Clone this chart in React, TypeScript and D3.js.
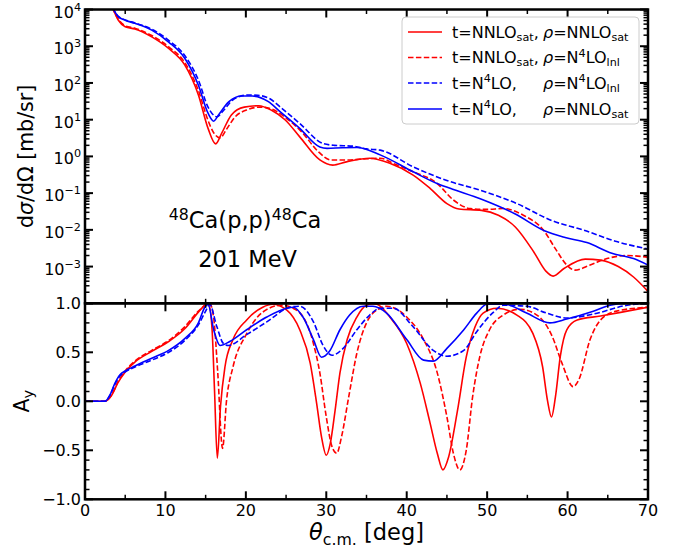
import React from 'react';
import * as d3 from 'd3';

type Pt = [number, number];

// dσ/dΩ [mb/sr] against θ_c.m. [deg]
const xsNNLOsatNNLOsat: Pt[] = [
  [3.0, 1.8e4], [3.5, 1.0e4], [4.15, 5.1e3], [5.0, 3.4e3], [6.2, 2.95e3], [8.3, 1.8e3],
  [10.4, 870], [12.4, 310], [14.1, 47], [15.3, 5.8], [16.25, 2.2], [17.0, 4.3], [18.2, 13.5],
  [19.8, 22], [21.6, 24], [23.2, 18], [24.9, 9.8], [26.7, 3.4], [29.2, 0.8], [30.8, 0.58],
  [32.5, 0.71], [35.4, 0.89], [37.9, 0.65], [40.8, 0.31], [42.9, 0.135], [45.0, 0.052],
  [46.5, 0.037], [49.3, 0.034], [51.4, 0.025], [53.5, 0.012], [55.8, 0.0025], [57.3, 7.5e-4],
  [58.2, 5.5e-4], [59.6, 9.0e-4], [62.2, 1.6e-3], [64.1, 1.5e-3], [66.3, 1.0e-3],
  [68.2, 5.2e-4], [70, 2.1e-4],
];
const xsNNLOsatN4LOlnl: Pt[] = [
  [3.0, 1.8e4], [3.5, 1.0e4], [4.15, 5.4e3], [5.0, 3.6e3], [6.2, 3.1e3], [8.3, 1.95e3],
  [10.4, 960], [12.4, 360], [14.1, 62], [15.3, 9.5], [16.0, 4.4], [16.8, 3.2], [17.6, 5.5],
  [18.6, 11.5], [20.3, 19], [21.8, 22], [23.2, 19.5], [24.9, 11.5], [27.0, 4.5], [29.0, 1.35],
  [30.6, 0.8], [32.5, 0.8], [35.0, 0.86], [36.7, 0.89], [38.5, 0.62], [40.8, 0.38],
  [43.7, 0.19], [45.8, 0.065], [47.9, 0.038], [50.0, 0.036], [52.0, 0.038], [54.5, 0.025],
  [57.0, 0.0098], [58.6, 0.0028], [59.9, 1.1e-3], [60.9, 8.0e-4], [62.8, 1.1e-3],
  [64.9, 1.65e-3], [67.4, 2.0e-3], [70, 1.8e-3],
];
const xsN4LON4LOlnl: Pt[] = [
  [3.0, 1.8e4], [3.5, 1.05e4], [4.15, 6.5e3], [5.0, 5.2e3], [6.2, 4.3e3], [8.3, 2.9e3],
  [10.4, 1.45e3], [12.4, 560], [14.1, 120], [15.3, 22], [16.4, 12], [17.2, 17.5], [18.4, 35],
  [20.3, 47], [21.5, 46], [23.0, 37], [24.25, 22.4], [26.7, 7.9], [29.6, 2.24], [31.0, 2.0],
  [33.3, 1.9], [35.0, 1.6], [36.7, 1.48], [40.8, 0.52], [44.9, 0.224], [49.1, 0.12],
  [53.7, 0.052], [58.0, 0.018], [62.0, 0.0098], [66.1, 0.0048], [70, 0.003],
];
const xsN4LONNLOsat: Pt[] = [
  [3.0, 1.8e4], [3.5, 1.05e4], [4.15, 6.3e3], [5.0, 5.1e3], [6.2, 4.2e3], [8.3, 2.75e3],
  [10.4, 1.3e3], [12.4, 470], [14.1, 87], [15.3, 15], [16.0, 9.1], [16.6, 13.5], [17.9, 31],
  [19.5, 44], [20.8, 44], [22.8, 31], [24.25, 16.6], [26.7, 5.8], [29.2, 1.8], [30.1, 1.65],
  [32.0, 1.72], [33.8, 1.74], [36.7, 1.1], [40.8, 0.38], [43.7, 0.186], [45.4, 0.135],
  [49.3, 0.068], [53.5, 0.027], [57.2, 0.0093], [59.7, 0.0062], [62.4, 0.0045],
  [65.5, 0.0023], [68.2, 0.00165], [70, 0.0011],
];

// analysing power A_y against θ_c.m. [deg]
const ayNNLOsatNNLOsat: Pt[] = [
  [0, 0], [2.4, 0], [3.3, 0.06], [4.1, 0.19], [5.0, 0.3], [6.2, 0.4], [8.3, 0.51], [10.4, 0.61],
  [12.4, 0.74], [14.1, 0.91], [14.9, 0.98], [15.35, 1.0], [15.8, 0.73], [16.1, 0.12],
  [16.45, -0.58], [16.85, -0.05], [17.4, 0.35], [18.4, 0.63], [20.1, 0.83], [22.1, 0.96],
  [23.3, 0.99], [25.1, 0.93], [26.7, 0.73], [28.0, 0.39], [28.8, -0.02], [29.4, -0.36],
  [30.0, -0.55], [30.5, -0.43], [31.1, -0.09], [31.7, 0.29], [32.6, 0.63], [33.8, 0.86],
  [35.0, 0.98], [35.8, 0.995], [36.3, 0.99], [37.9, 0.86], [40.0, 0.59], [41.7, 0.18],
  [42.9, -0.22], [43.8, -0.53], [44.5, -0.7], [45.2, -0.57], [46.3, -0.1], [47.4, 0.45],
  [48.5, 0.76], [49.5, 0.9], [51.2, 0.95], [53.7, 0.88], [55.7, 0.69], [56.9, 0.35],
  [57.5, 0.01], [58.0, -0.16], [58.5, 0.05], [59.1, 0.46], [59.9, 0.73], [61.2, 0.83],
  [64.1, 0.87], [67.4, 0.92], [70, 0.96],
];
const ayNNLOsatN4LOlnl: Pt[] = [
  [0, 0], [2.4, 0], [3.3, 0.065], [4.1, 0.2], [5.0, 0.31], [6.2, 0.41], [8.3, 0.52],
  [10.4, 0.62], [12.4, 0.76], [14.1, 0.92], [15.5, 1.0], [16.0, 0.85], [16.5, 0.3],
  [17.1, -0.48], [17.6, 0.01], [18.4, 0.35], [20.1, 0.69], [22.1, 0.91], [24.4, 0.98],
  [26.3, 0.93], [28.4, 0.59], [29.2, 0.29], [30.0, -0.16], [30.7, -0.46], [31.3, -0.53],
  [31.9, -0.36], [32.8, 0.05], [33.8, 0.49], [35.0, 0.8], [36.7, 0.95], [37.5, 0.97],
  [40.0, 0.86], [42.1, 0.63], [43.8, 0.29], [45.0, -0.16], [45.8, -0.53], [46.6, -0.7],
  [47.4, -0.5], [48.2, 0.05], [49.1, 0.46], [50.3, 0.73], [52.0, 0.88], [54.1, 0.94],
  [56.5, 0.86], [58.1, 0.66], [59.3, 0.39], [60.7, 0.15], [61.4, 0.22], [62.8, 0.63],
  [64.1, 0.83], [66.1, 0.92], [70, 0.96],
];
const ayN4LON4LOlnl: Pt[] = [
  [0, 0], [2.5, 0], [3.1, 0.06], [3.7, 0.17], [4.35, 0.26], [5.0, 0.3], [6.2, 0.35],
  [8.3, 0.42], [10.4, 0.5], [12.4, 0.62], [14.1, 0.78], [15.0, 0.92], [15.5, 0.99],
  [16.4, 0.76], [17.2, 0.59], [17.8, 0.57], [20.1, 0.68], [22.6, 0.81], [25.5, 0.96],
  [26.7, 0.97], [28.4, 0.81], [29.6, 0.57], [30.7, 0.47], [32.1, 0.54], [33.8, 0.73],
  [35.4, 0.88], [36.7, 0.95], [38.3, 0.95], [40.8, 0.76], [43.3, 0.52], [45.0, 0.46],
  [47.1, 0.52], [48.7, 0.71], [50.8, 0.91], [52.0, 0.98], [54.9, 0.97], [57.4, 0.9],
  [59.9, 0.85], [63.2, 0.89], [67.4, 0.98], [70, 1.0],
];
const ayN4LONNLOsat: Pt[] = [
  [0, 0], [2.5, 0], [3.1, 0.064], [3.7, 0.18], [4.35, 0.27], [5.0, 0.31], [6.2, 0.36],
  [8.3, 0.44], [10.4, 0.52], [12.4, 0.64], [14.1, 0.8], [14.9, 0.96], [15.3, 0.99],
  [16.0, 0.73], [16.8, 0.57], [18.0, 0.61], [20.1, 0.73], [22.6, 0.86], [25.1, 0.95],
  [25.9, 0.96], [27.1, 0.86], [28.4, 0.63], [29.4, 0.45], [30.4, 0.51], [31.7, 0.73],
  [32.9, 0.88], [34.6, 0.97], [35.8, 0.97], [37.5, 0.9], [40.0, 0.63], [42.1, 0.42],
  [43.3, 0.41], [45.0, 0.54], [47.1, 0.73], [48.7, 0.9], [50.0, 0.99], [52.2, 0.99],
  [54.9, 0.9], [57.8, 0.8], [59.9, 0.84], [63.2, 0.92], [65.3, 0.98], [67.4, 1.0], [70, 1.0],
];

const xTicks = [0, 10, 20, 30, 40, 50, 60, 70];
const xsTickExponents = [4, 3, 2, 1, 0, -1, -2, -3];
const ayTicks = [-1, -0.5, 0, 0.5, 1];
const ayTickLabels = ['−1.0', '−0.5', '0.0', '0.5', '1.0'];

type Seg = { t: string; k?: 'sub' | 'sup' | 'it' };

const seriesLabelsT: Seg[][] = [
  [{ t: 't=NNLO' }, { t: 'sat', k: 'sub' }, { t: ',' }],
  [{ t: 't=NNLO' }, { t: 'sat', k: 'sub' }, { t: ',' }],
  [{ t: 't=N' }, { t: '4', k: 'sup' }, { t: 'LO,' }],
  [{ t: 't=N' }, { t: '4', k: 'sup' }, { t: 'LO,' }],
];
const seriesLabelsRho: Seg[][] = [
  [{ t: 'ρ', k: 'it' }, { t: '=NNLO' }, { t: 'sat', k: 'sub' }],
  [{ t: 'ρ', k: 'it' }, { t: '=N' }, { t: '4', k: 'sup' }, { t: 'LO' }, { t: 'lnl', k: 'sub' }],
  [{ t: 'ρ', k: 'it' }, { t: '=N' }, { t: '4', k: 'sup' }, { t: 'LO' }, { t: 'lnl', k: 'sub' }],
  [{ t: 'ρ', k: 'it' }, { t: '=NNLO' }, { t: 'sat', k: 'sub' }],
];
const seriesColors = ['#ff0000', '#ff0000', '#0000ff', '#0000ff'];
const seriesDashed = [false, true, true, false];
const xsSeries = [xsNNLOsatNNLOsat, xsNNLOsatN4LOlnl, xsN4LON4LOlnl, xsN4LONNLOsat];
const aySeries = [ayNNLOsatNNLOsat, ayNNLOsatN4LOlnl, ayN4LON4LOlnl, ayN4LONNLOsat];

const FONT = 'DejaVu Sans, sans-serif';

function segs(list: Seg[], fs: number) {
  let shift = 0;
  return list.map((s, i) => {
    const target = s.k === 'sub' ? fs * 0.2 : s.k === 'sup' ? -fs * 0.38 : 0;
    const dy = target - shift;
    shift = target;
    const size = s.k === 'sub' || s.k === 'sup' ? fs * 0.7 : fs;
    return (
      <tspan key={i} dy={dy !== 0 ? dy : undefined} fontSize={size}
        fontStyle={s.k === 'it' ? 'italic' : undefined}>{s.t}</tspan>
    );
  });
}

export default function App() {
  const W = 686, H = 552;
  const L = 85, R = 648;
  const topY0 = 9.5, mid = 303.3, botY1 = 499.3;

  const x = d3.scaleLinear().domain([0, 70]).range([L, R]);
  const yTop = d3.scaleLog().domain([1e-4, 1e4]).range([mid, topY0]);
  const yBot = d3.scaleLinear().domain([-1, 1]).range([botY1, mid]);

  const lineTop = d3.line<Pt>().x(d => x(d[0])).y(d => yTop(d[1])).curve(d3.curveMonotoneX);
  const lineBot = d3.line<Pt>().x(d => x(d[0])).y(d => yBot(d[1])).curve(d3.curveMonotoneX);

  const MAJ = 8, MIN = 4.5, MAJW = 2, MINW = 1.5;
  const xMinor = d3.range(5, 70, 10);
  const logMinor = yTop.ticks().filter(v => {
    const m = v / Math.pow(10, Math.floor(Math.log10(v) + 1e-9));
    return Math.abs(m - 1) > 1e-6;
  });
  const logMajor = d3.range(-4, 5).map(e => Math.pow(10, e));
  const ayMinor = d3.range(-10, 11).map(i => i / 10).filter(v => Math.abs(v * 2 - Math.round(v * 2)) > 1e-6);

  const tick = (x1: number, y1: number, x2: number, y2: number, w: number, key: string) => (
    <line key={key} x1={x1} y1={y1} x2={x2} y2={y2} stroke="#000" strokeWidth={w} />
  );

  const ticks: React.ReactNode[] = [];
  // x ticks on both edges of both panels
  [[topY0, 1], [mid, -1], [mid, 1], [botY1, -1]].forEach(([yy, dir], pi) => {
    xTicks.forEach(v => ticks.push(tick(x(v), yy, x(v), yy + dir * MAJ, MAJW, `xM${pi}-${v}`)));
    xMinor.forEach(v => ticks.push(tick(x(v), yy, x(v), yy + dir * MIN, MINW, `xm${pi}-${v}`)));
  });
  // y ticks, left and right
  [[L, 1], [R, -1]].forEach(([xx, dir], si) => {
    logMajor.forEach(v => ticks.push(tick(xx, yTop(v), xx + dir * MAJ, yTop(v), MAJW, `lM${si}-${v}`)));
    logMinor.forEach(v => ticks.push(tick(xx, yTop(v), xx + dir * MIN, yTop(v), MINW, `lm${si}-${v}`)));
    ayTicks.forEach(v => ticks.push(tick(xx, yBot(v), xx + dir * MAJ, yBot(v), MAJW, `aM${si}-${v}`)));
    ayMinor.forEach(v => ticks.push(tick(xx, yBot(v), xx + dir * MIN, yBot(v), MINW, `am${si}-${v}`)));
  });

  const dash = '5.5 2.4';
  const legendX = 402, legendY = 17;
  const legendRows = [32, 57.5, 83, 109];

  return (
    <svg width={W} height={H} style={{ position: 'absolute', left: 0, top: 0, background: '#fff' }}
      fontFamily={FONT}>
      <defs>
        <clipPath id="clipTop"><rect x={L} y={topY0} width={R - L} height={mid - topY0} /></clipPath>
        <clipPath id="clipBot"><rect x={L} y={mid} width={R - L} height={botY1 - mid} /></clipPath>
      </defs>
      <rect x={0} y={0} width={W} height={H} fill="#fff" />

      <g clipPath="url(#clipTop)" fill="none" strokeWidth={1.6}>
        {xsSeries.map((s, i) => (
          <path key={i} d={lineTop(s) || ''} stroke={seriesColors[i]}
            strokeDasharray={seriesDashed[i] ? dash : undefined} />
        ))}
      </g>
      <g clipPath="url(#clipBot)" fill="none" strokeWidth={1.6}>
        {aySeries.map((s, i) => (
          <path key={i} d={lineBot(s) || ''} stroke={seriesColors[i]}
            strokeDasharray={seriesDashed[i] ? dash : undefined} />
        ))}
      </g>

      {ticks}
      <rect x={L} y={topY0} width={R - L} height={mid - topY0} fill="none" stroke="#000" strokeWidth={2.5} />
      <rect x={L} y={mid} width={R - L} height={botY1 - mid} fill="none" stroke="#000" strokeWidth={2.5} />

      {/* tick labels */}
      <g fontSize={16} fill="#000">
        {xTicks.map(v => (
          <text key={v} x={x(v)} y={516} textAnchor="middle">{v}</text>
        ))}
        {xsTickExponents.map(e => (
          <text key={e} x={81} y={yTop(Math.pow(10, e)) + 8} textAnchor="end">
            10<tspan dy={-7} fontSize={11.2}>{e < 0 ? `−${-e}` : `${e}`}</tspan>
          </text>
        ))}
        {ayTicks.map((v, i) => (
          <text key={v} x={81} y={yBot(v) + 6} textAnchor="end">{ayTickLabels[i]}</text>
        ))}
      </g>

      {/* axis titles */}
      <text transform={`translate(32.5,${(topY0 + mid) / 2}) rotate(-90)`} textAnchor="middle" fontSize={20.5}>
        d<tspan fontStyle="italic">σ</tspan>/dΩ [mb/sr]
      </text>
      <text transform={`translate(28.5,${(mid + botY1) / 2}) rotate(-90)`} textAnchor="middle" fontSize={20.5}>
        A<tspan dy={4} fontSize={14.5}>y</tspan>
      </text>
      <text x={(L + R) / 2} y={540} textAnchor="middle" fontSize={22.5}>
        <tspan fontStyle="italic">θ</tspan><tspan dy={4.5} fontSize={15.75}>c.m.</tspan><tspan dy={-4.5}> [deg]</tspan>
      </text>

      {/* reaction annotation */}
      <text x={245} y={228} textAnchor="middle" fontSize={22.5}>
        <tspan dy={-8.5} fontSize={15.75}>48</tspan><tspan dy={8.5}>Ca(p,p)</tspan>
        <tspan dy={-8.5} fontSize={15.75}>48</tspan><tspan dy={8.5}>Ca</tspan>
      </text>
      <text x={247.5} y={267} textAnchor="middle" fontSize={22.5}>201 MeV</text>

      {/* legend */}
      <rect x={legendX} y={legendY} width={237} height={107} rx={4} fill="#fff" fillOpacity={0.8}
        stroke="#cccccc" strokeWidth={1} />
      {legendRows.map((ly, i) => (
        <g key={i}>
          <line x1={408} x2={442} y1={ly} y2={ly} stroke={seriesColors[i]} strokeWidth={1.6}
            strokeDasharray={seriesDashed[i] ? dash : undefined} />
          <text x={452} y={ly + 5.5} fontSize={16}>{segs(seriesLabelsT[i], 16)}</text>
          <text x={543} y={ly + 5.5} fontSize={16}>{segs(seriesLabelsRho[i], 16)}</text>
        </g>
      ))}
    </svg>
  );
}
